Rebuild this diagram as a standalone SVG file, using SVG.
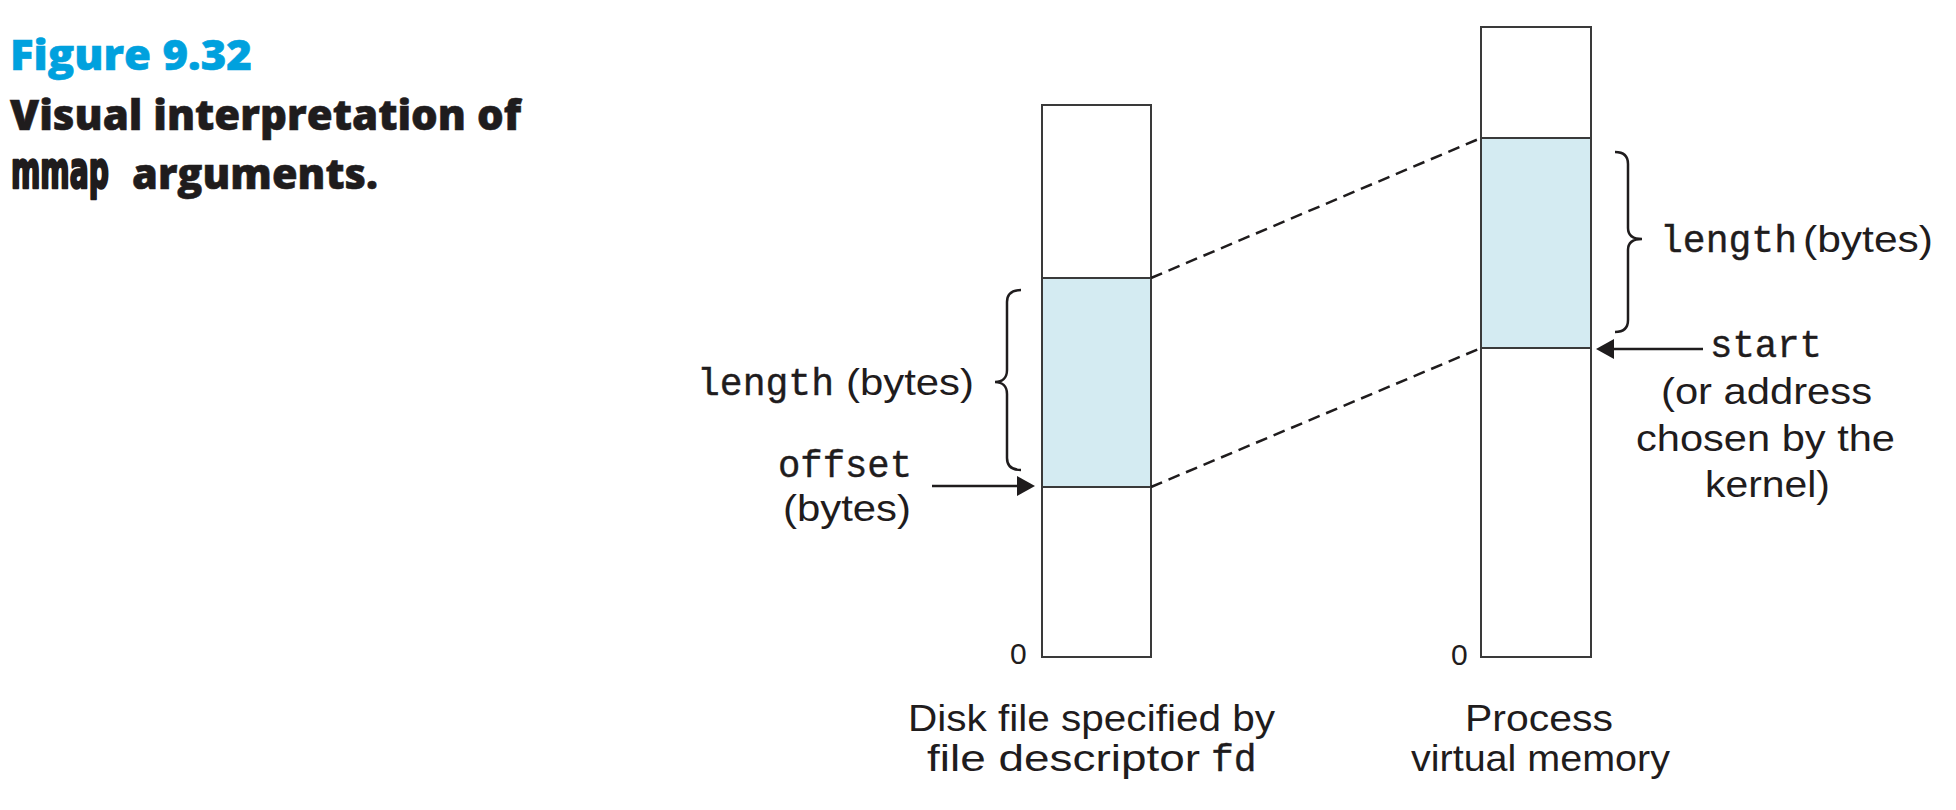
<svg xmlns="http://www.w3.org/2000/svg" width="1956" height="810" viewBox="0 0 1956 810">
  <style>
    .title { font-family: "Open Sans", "Liberation Sans", sans-serif; font-weight: 800; font-size: 43px; fill: #1f1c1d; stroke: #1f1c1d; stroke-width: 0.6px; }
    .fig { fill: #00a1de; stroke: #00a1de; }
    .cond { font-family: "DejaVu Sans", "Liberation Sans", sans-serif; font-weight: 700; font-stretch: condensed; font-size: 52px; fill: #1f1c1d; stroke: #1f1c1d; stroke-width: 2.6px; stroke-linejoin: round; }
    .sans { font-family: "Liberation Sans", Arial, sans-serif; font-size: 36px; fill: #1f1c1d; }
    .zero { font-family: "Liberation Sans", Arial, sans-serif; font-size: 30px; fill: #1f1c1d; }
    .mono { font-family: "Liberation Mono", "Courier New", monospace; font-size: 38px; fill: #1f1c1d; stroke: #1f1c1d; stroke-width: 0.4px; }
    .col { fill: #ffffff; stroke: #3a3a3a; stroke-width: 2; }
    .map { fill: #d4ebf2; stroke: #3a3a3a; stroke-width: 2; }
    .brace { fill: none; stroke: #1f1c1d; stroke-width: 2.5; }
    .dash { fill: none; stroke: #1f1c1d; stroke-width: 2.5; stroke-dasharray: 12 7; }
    .arrow { fill: none; stroke: #1f1c1d; stroke-width: 2.5; }
  </style>
  <defs>
    <marker id="head" markerUnits="userSpaceOnUse" markerWidth="18" markerHeight="20" refX="13" refY="10" orient="auto">
      <path d="M0,0 L18,10 L0,20 Z" fill="#1f1c1d"/>
    </marker>
  </defs>

  <g id="caption">
    <text class="title fig" x="10" y="70" textLength="242" lengthAdjust="spacingAndGlyphs">Figure 9.32</text>
    <text class="title" x="10" y="130" textLength="511" lengthAdjust="spacingAndGlyphs">Visual interpretation of</text>
    <text class="cond" transform="translate(11,188) scale(0.6,1)" x="0" y="0" textLength="163" lengthAdjust="spacingAndGlyphs">mmap</text>
    <text class="title" x="132" y="189" textLength="246" lengthAdjust="spacingAndGlyphs">arguments.</text>
  </g>

  <g id="disk-file">
    <rect class="col" x="1042" y="105" width="109" height="552"/>
    <rect class="map" x="1042" y="278" width="109" height="209"/>
    <text class="zero" x="1010" y="664">0</text>
    <text class="sans" x="908" y="731" textLength="367" lengthAdjust="spacingAndGlyphs">Disk file specified by</text>
    <text class="sans" x="927" y="771" textLength="273" lengthAdjust="spacingAndGlyphs">file descriptor</text>
    <text class="mono" x="1211" y="771">fd</text>
  </g>

  <g id="file-length">
    <path class="brace" d="M1021,290 C1012,290 1007,294 1007,302 L1007,370 C1007,378 1002,382 995,382 C1002,382 1007,386 1007,394 L1007,458 C1007,466 1012,470 1021,470"/>
    <text class="mono" x="697" y="395" textLength="137" lengthAdjust="spacingAndGlyphs">length</text>
    <text class="sans" x="846" y="395" textLength="128" lengthAdjust="spacingAndGlyphs">(bytes)</text>
  </g>

  <g id="file-offset">
    <text class="mono" x="778" y="477" textLength="134" lengthAdjust="spacingAndGlyphs">offset</text>
    <text class="sans" x="783" y="521" textLength="128" lengthAdjust="spacingAndGlyphs">(bytes)</text>
  </g>

  <g id="virtual-memory">
    <rect class="col" x="1481" y="27" width="110" height="630"/>
    <rect class="map" x="1481" y="138" width="110" height="210"/>
    <text class="zero" x="1451" y="665">0</text>
    <text class="sans" x="1465" y="731" textLength="148" lengthAdjust="spacingAndGlyphs">Process</text>
    <text class="sans" x="1411" y="771" textLength="259" lengthAdjust="spacingAndGlyphs">virtual memory</text>
  </g>

  <g id="vm-length">
    <path class="brace" d="M1615,152 C1623,152 1628,156 1628,164 L1628,228 C1628,235 1633,239 1642,239 C1633,239 1628,243 1628,250 L1628,320 C1628,328 1623,332 1615,332"/>
    <text class="mono" x="1660" y="252" textLength="137" lengthAdjust="spacingAndGlyphs">length</text>
    <text class="sans" x="1803" y="252" textLength="130" lengthAdjust="spacingAndGlyphs">(bytes)</text>
  </g>

  <g id="vm-start">
    <text class="mono" x="1710" y="357" textLength="112" lengthAdjust="spacingAndGlyphs">start</text>
    <text class="sans" x="1661" y="404" textLength="211" lengthAdjust="spacingAndGlyphs">(or address</text>
    <text class="sans" x="1636" y="451" textLength="259" lengthAdjust="spacingAndGlyphs">chosen by the</text>
    <text class="sans" x="1705" y="497" textLength="125" lengthAdjust="spacingAndGlyphs">kernel)</text>
  </g>

  <g id="connectors">
    <line class="dash" x1="1151" y1="278" x2="1481" y2="138"/>
    <line class="dash" x1="1151" y1="487" x2="1481" y2="348"/>
    <line class="arrow" x1="932" y1="486" x2="1030" y2="486" marker-end="url(#head)"/>
    <line class="arrow" x1="1703" y1="349" x2="1601" y2="349" marker-end="url(#head)"/>
  </g>
</svg>
